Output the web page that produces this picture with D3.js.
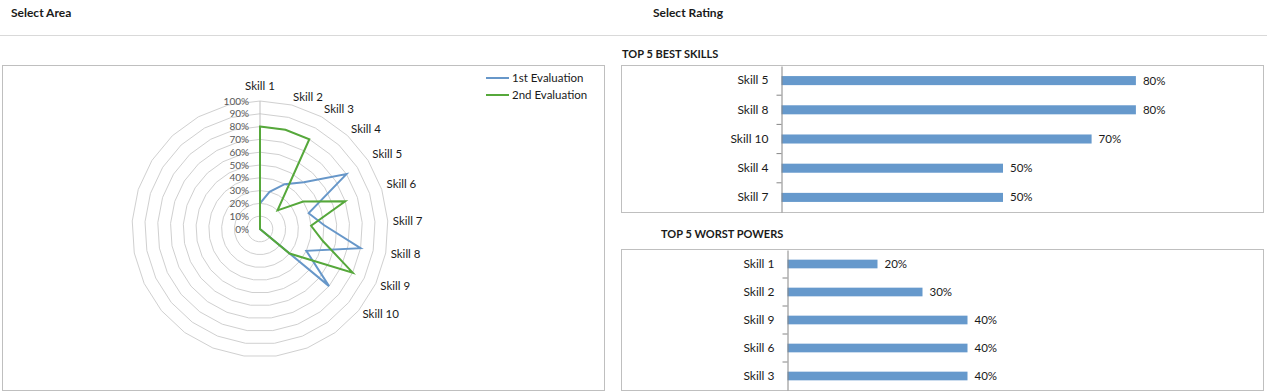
<!DOCTYPE html>
<html>
<head>
<meta charset="utf-8">
<script src="https://cdn.jsdelivr.net/npm/d3@7"></script>
<style>
  body { margin: 0; background: #fff; }
  svg { display: block; font-family: Lato, "Open Sans", sans-serif; }
</style>
</head>
<body>
<svg id="chart" width="1267" height="392"></svg>
<script>
// données du radar
const skills = ["Skill 1", "Skill 2", "Skill 3", "Skill 4", "Skill 5", "Skill 6", "Skill 7", "Skill 8", "Skill 9", "Skill 10"];
const eval1 = [0.2, 0.3, 0.4, 0.5, 0.8, 0.4, 0.5, 0.8, 0.4, 0.7];
const eval2 = [0.8, 0.8, 0.8, 0.2, 0.4, 0.7, 0.4, 0.5, 0.8, 0.3];
const seriesNames = ["1st Evaluation", "2nd Evaluation"];
const radarTicks = [0, 0.1, 0.2, 0.3, 0.4, 0.5, 0.6, 0.7, 0.8, 0.9, 1];
const nbAxes = 25; // 10 compétences + catégories vides

// top 5
const bestSkills = ["Skill 5", "Skill 8", "Skill 10", "Skill 4", "Skill 7"];
const bestValues = [0.8, 0.8, 0.7, 0.5, 0.5];
const worstSkills = ["Skill 1", "Skill 2", "Skill 9", "Skill 6", "Skill 3"];
const worstValues = [0.2, 0.3, 0.4, 0.4, 0.4];

const bleu = "#6797c9", vert = "#56a83b", barColor = "#6699cc";
const svg = d3.select("#chart");

// en-tête
svg.append("text").attr("x", 11).attr("y", 17).text("Select Area")
  .attr("font-weight", "bold").attr("font-size", "12px").attr("fill", "#1a1a1a");
svg.append("text").attr("x", 653).attr("y", 17).text("Select Rating")
  .attr("font-weight", "bold").attr("font-size", "12px").attr("fill", "#1a1a1a");
svg.append("line").attr("x1", 0).attr("x2", 1267).attr("y1", 35.5).attr("y2", 35.5)
  .attr("stroke", "#d9d9d9");

// cadre du radar
svg.append("rect").attr("x", 2.5).attr("y", 65.5).attr("width", 602).attr("height", 325)
  .attr("fill", "none").attr("stroke", "#bfbfbf");

// ---------- radar ----------
const cx = 260, cy = 229, R = 128;
const r = d3.scaleLinear().domain([0, 1]).range([0, R]);
const angle = i => i * 2 * Math.PI / nbAxes;
const radar = svg.append("g").attr("transform", `translate(${cx},${cy})`);

const ring = d3.lineRadial().curve(d3.curveLinearClosed)
  .angle((d, i) => angle(i)).radius(d => d);

radar.selectAll(".grille")
  .data(radarTicks.slice(1))
  .join("path")
  .attr("class", "grille")
  .attr("d", v => ring(d3.range(nbAxes).map(() => r(v))))
  .attr("fill", "none")
  .attr("stroke", "#d0d0d0")
  .attr("stroke-width", 1);

radar.append("line").attr("x1", 0).attr("x2", 0).attr("y1", 0).attr("y2", -R)
  .attr("stroke", "#bfbfbf");

radar.selectAll(".tickLabel")
  .data(radarTicks)
  .join("text")
  .attr("class", "tickLabel")
  .attr("x", -11)
  .attr("y", d => -r(d))
  .attr("dy", "0.35em")
  .attr("text-anchor", "end")
  .attr("font-size", "10px")
  .attr("fill", "#595959")
  .text(d3.format(".0%"));

// courbes : après Skill 10 les catégories vides retombent au centre
const serieLine = d3.lineRadial().curve(d3.curveLinearClosed)
  .angle(d => d.a).radius(d => r(d.v));
[eval1, eval2].forEach((vals, s) => {
  const pts = vals.map((v, i) => ({ a: angle(i), v: v }));
  pts.push({ a: angle(vals.length), v: 0 });
  radar.append("path")
    .attr("d", serieLine(pts))
    .attr("fill", "none")
    .attr("stroke", s == 0 ? bleu : vert)
    .attr("stroke-width", 2)
    .attr("stroke-linejoin", "miter");
});

// étiquettes des compétences (bord du texte accroché au bout de l'axe)
radar.selectAll(".skillLabel")
  .data(skills)
  .join("text")
  .attr("class", "skillLabel")
  .attr("text-anchor", "middle")
  .attr("dy", "0.35em")
  .attr("font-size", "11.5px")
  .attr("fill", "#1a1a1a")
  .text(d => d)
  .each(function (d, i) {
    const a = angle(i), w = this.getComputedTextLength();
    const rl = 133;
    const sx = Math.sin(a), cy_ = Math.cos(a);
    let dx = sx > 0.01 ? w / 2 : 0;
    let dy = cy_ > 0.99 ? -10 : (cy_ > 0.1 ? -3.5 : 0);
    d3.select(this)
      .attr("x", rl * sx + dx)
      .attr("y", -rl * cy_ + dy);
  });

// légende
const legende = svg.append("g");
seriesNames.forEach((n, i) => {
  legende.append("line").attr("x1", 486).attr("x2", 509)
    .attr("y1", 78 + i * 17).attr("y2", 78 + i * 17)
    .attr("stroke", i == 0 ? bleu : vert).attr("stroke-width", 2);
  legende.append("text").attr("x", 512).attr("y", 78 + i * 17).attr("dy", "0.35em")
    .attr("font-size", "11.5px").attr("fill", "#1a1a1a").text(n);
});

// ---------- barres ----------
function barChart(titre, titreX, titreY, box, axeX, largeur100, cats, vals) {
  svg.append("text").attr("x", titreX).attr("y", titreY).attr("dy", "0.35em")
    .attr("font-weight", "bold").attr("font-size", "11px").attr("fill", "#1a1a1a")
    .text(titre);
  svg.append("rect").attr("x", box.x).attr("y", box.y).attr("width", box.w).attr("height", box.h)
    .attr("fill", "none").attr("stroke", "#bfbfbf");

  const y = d3.scaleBand().domain(cats).range([box.y + 0.5, box.y + box.h - 0.5])
    .paddingInner(0.69).paddingOuter(0.345);
  const x = d3.scaleLinear().domain([0, 1]).range([axeX, axeX + largeur100]);

  const g = svg.append("g");
  g.selectAll("rect")
    .data(vals)
    .join("rect")
    .attr("x", x(0))
    .attr("y", (d, i) => y(cats[i]))
    .attr("width", d => x(d) - x(0))
    .attr("height", y.bandwidth())
    .attr("fill", barColor);

  g.selectAll(".valeur")
    .data(vals)
    .join("text")
    .attr("class", "valeur")
    .attr("x", d => x(d) + 7)
    .attr("y", (d, i) => y(cats[i]) + y.bandwidth() / 2)
    .attr("dy", "0.35em")
    .attr("font-size", "11.5px")
    .attr("fill", "#1a1a1a")
    .text(d3.format(".0%"));

  // axe vertical avec petits traits entre catégories
  const axe = d3.axisLeft(y).tickSize(0).tickPadding(13);
  const ga = svg.append("g").attr("transform", `translate(${axeX},0)`).call(axe);
  ga.select(".domain").attr("stroke", "#868686");
  ga.selectAll("text").attr("font-size", "12px").attr("fill", "#1a1a1a")
    .attr("font-family", "Lato, 'Open Sans', sans-serif");
  const bornes = d3.range(1, cats.length).map(i => y.range()[0] + i * y.step());
  ga.selectAll(".trait")
    .data(bornes)
    .join("line")
    .attr("class", "trait")
    .attr("x1", -5).attr("x2", 0)
    .attr("y1", d => d).attr("y2", d => d)
    .attr("stroke", "#868686");
}

barChart("TOP 5 BEST SKILLS", 622, 54,
  { x: 621.5, y: 65.5, w: 642, h: 147 }, 781.5, 443, bestSkills, bestValues);
barChart("TOP 5 WORST POWERS", 661, 234,
  { x: 621.5, y: 249.5, w: 642, h: 141 }, 787.5, 450, worstSkills, worstValues);
</script>
</body>
</html>
